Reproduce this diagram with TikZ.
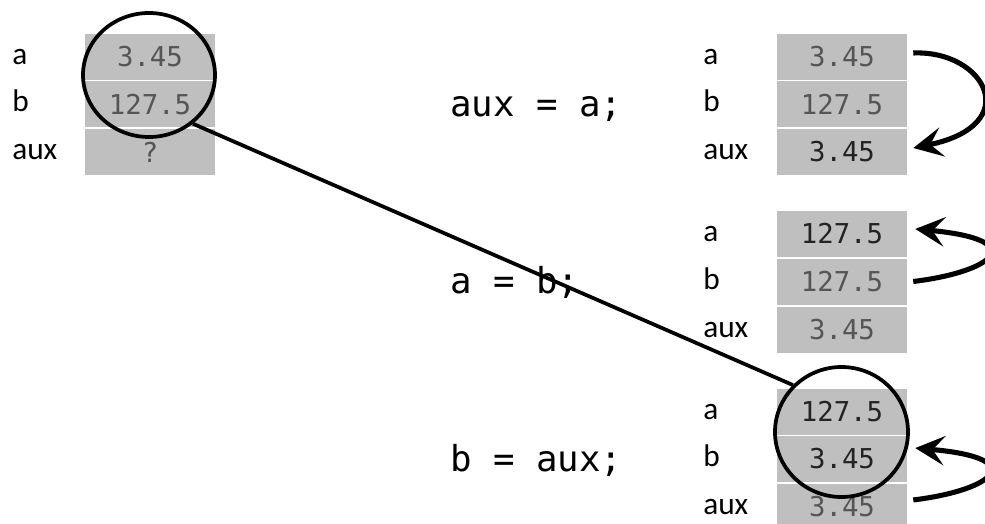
\documentclass[tikz,border=0pt]{standalone}
\usepackage{fontspec}
\setmainfont{Carlito}
\setmonofont{DejaVu Sans Mono}
\usetikzlibrary{arrows.meta,shapes.geometric}
\definecolor{cellgray}{RGB}{191,191,191}
\definecolor{oldval}{RGB}{85,85,85}
\definecolor{newval}{RGB}{35,35,35}
\tikzset{
  >={Stealth[length=22pt,width=22pt,inset=9pt]},
  cell/.style={fill=cellgray,minimum width=97.5pt,minimum height=34.5pt,inner sep=0pt,
    text=#1,font=\fontsize{20.5}{24}\selectfont\ttfamily},
  cell/.default=oldval,
  varname/.style={anchor=base west,inner sep=0pt,font=\fontsize{23.5}{28}\selectfont},
  stmt/.style={anchor=base west,inner sep=0pt,font=\fontsize{26.8}{32}\selectfont\ttfamily},
  lens/.style={ellipse,draw,line width=2.8pt,inner sep=0pt},
  move/.style={->,line width=3.8pt},
}
\begin{document}
\begin{tikzpicture}[x=0.75pt,y=-0.75pt]
  \clip (0,0) rectangle (985,524);
  % starting values
  \node[varname] (la-n) at (12,64.5) {a};
  \node[varname] (lb-n) at (12,112) {b};
  \node[varname] (lx-n) at (12,159.5) {aux};
  \node[cell] (la) at (150,57) {3.45};
  \node[cell] (lb) at (150,104.5) {127.5};
  \node[cell] (lx) at (150,152) {?};
  % aux = a;
  \node[stmt] (st1) at (450,116.5) {aux = a;};
  \node[varname] (pa-n) at (703,64.5) {a};
  \node[varname] (pb-n) at (703,112) {b};
  \node[varname] (px-n) at (703,159.5) {aux};
  \node[cell] (pa) at (842,57) {3.45};
  \node[cell] (pb) at (842,104.5) {127.5};
  \node[cell=newval] (px) at (842,152) {3.45};
  % a = b;
  \node[stmt] (st2) at (450,293.5) {a = b;};
  \node[varname] (qa-n) at (703,241) {a};
  \node[varname] (qb-n) at (703,289) {b};
  \node[varname] (qx-n) at (703,337) {aux};
  \node[cell=newval] (qa) at (842,233.5) {127.5};
  \node[cell] (qb) at (842,281.5) {127.5};
  \node[cell] (qx) at (842,329.5) {3.45};
  % b = aux;
  \node[stmt] (st3) at (450,471) {b = aux;};
  \node[varname] (ra-n) at (703,419) {a};
  \node[varname] (rb-n) at (703,466.5) {b};
  \node[varname] (rx-n) at (703,514) {aux};
  \node[cell=newval] (ra) at (842,411.5) {127.5};
  \node[cell=newval] (rb) at (842,459) {3.45};
  \node[cell] (rx) at (842,506.5) {3.45};
  % copies
  \draw[move] ([xshift=4.5pt,yshift=3pt]pa.east) .. controls +(72,-3) and +(112,-23) .. ([xshift=4.5pt,yshift=3pt]px.east);
  \draw[move] ([xshift=4.5pt]qb.east) .. controls +(82,-10) and +(115,11) .. ([xshift=6pt,yshift=3.4pt]qa.east);
  \draw[move] ([xshift=4.5pt,yshift=4.9pt]rx.east) .. controls +(82,-10) and +(115,10) .. ([xshift=6pt,yshift=8.2pt]rb.east);
  % before / after
  \node[lens,minimum width=99pt,minimum height=93pt] (lensL) at (149,75) {};
  \node[lens,minimum width=99.75pt,minimum height=97.5pt] (lensR) at (841.5,432) {};
  \draw[line width=2.8pt] (lensL.-48) -- (lensR.136);
\end{tikzpicture}
\end{document}
